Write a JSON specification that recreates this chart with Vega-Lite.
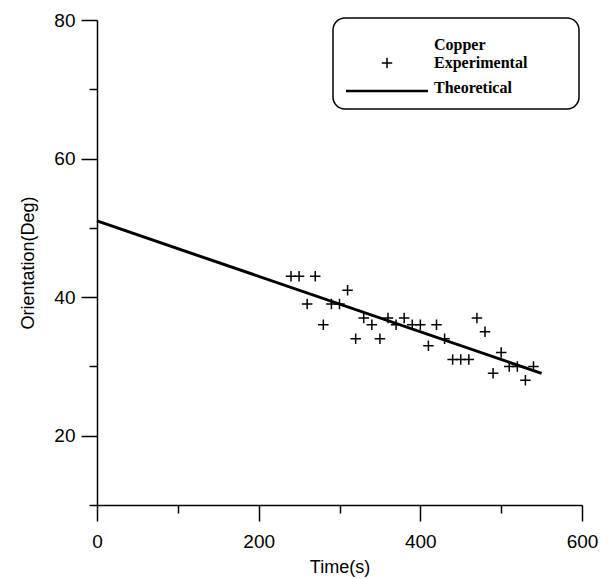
{
  "$schema": "https://vega.github.io/schema/vega-lite/v6.json",
  "width": 485,
  "height": 485,
  "autosize": {"type": "none"},
  "padding": {"left": 97, "top": 20, "right": 26, "bottom": 74},
  "background": "white",
  "config": {
    "view": {"stroke": null},
    "axis": {
      "domainColor": "black", "tickColor": "black", "labelColor": "black", "titleColor": "black",
      "labelFont": "Liberation Sans", "titleFont": "Liberation Sans",
      "labelFontSize": 19, "titleFontSize": 18, "titleFontWeight": "normal",
      "grid": false, "domainWidth": 1.5, "tickWidth": 1.5
    }
  },
  "datasets": {
    "pts": [
      {"t": 240, "deg": 43, "series": "Copper Experimental"},
      {"t": 250, "deg": 43, "series": "Copper Experimental"},
      {"t": 270, "deg": 43, "series": "Copper Experimental"},
      {"t": 310, "deg": 41, "series": "Copper Experimental"},
      {"t": 260, "deg": 39, "series": "Copper Experimental"},
      {"t": 290, "deg": 39, "series": "Copper Experimental"},
      {"t": 300, "deg": 39, "series": "Copper Experimental"},
      {"t": 280, "deg": 36, "series": "Copper Experimental"},
      {"t": 330, "deg": 37, "series": "Copper Experimental"},
      {"t": 340, "deg": 36, "series": "Copper Experimental"},
      {"t": 320, "deg": 34, "series": "Copper Experimental"},
      {"t": 350, "deg": 34, "series": "Copper Experimental"},
      {"t": 360, "deg": 37, "series": "Copper Experimental"},
      {"t": 380, "deg": 37, "series": "Copper Experimental"},
      {"t": 370, "deg": 36, "series": "Copper Experimental"},
      {"t": 390, "deg": 36, "series": "Copper Experimental"},
      {"t": 400, "deg": 36, "series": "Copper Experimental"},
      {"t": 420, "deg": 36, "series": "Copper Experimental"},
      {"t": 410, "deg": 33, "series": "Copper Experimental"},
      {"t": 430, "deg": 34, "series": "Copper Experimental"},
      {"t": 440, "deg": 31, "series": "Copper Experimental"},
      {"t": 450, "deg": 31, "series": "Copper Experimental"},
      {"t": 460, "deg": 31, "series": "Copper Experimental"},
      {"t": 470, "deg": 37, "series": "Copper Experimental"},
      {"t": 480, "deg": 35, "series": "Copper Experimental"},
      {"t": 500, "deg": 32, "series": "Copper Experimental"},
      {"t": 490, "deg": 29, "series": "Copper Experimental"},
      {"t": 510, "deg": 30, "series": "Copper Experimental"},
      {"t": 520, "deg": 30, "series": "Copper Experimental"},
      {"t": 540, "deg": 30, "series": "Copper Experimental"},
      {"t": 530, "deg": 28, "series": "Copper Experimental"}
    ],
    "theory": [
      {"t": 0, "deg": 51, "series": "Theoretical"},
      {"t": 550, "deg": 29, "series": "Theoretical"}
    ]
  },
  "encoding": {
    "x": {
      "field": "t", "type": "quantitative",
      "scale": {"domain": [0, 600], "nice": false},
      "axis": {
        "title": "Time(s)", "values": [0, 100, 200, 300, 400, 500, 600],
        "labelExpr": "datum.value % 200 == 0 ? datum.label : ''",
        "tickSize": {"condition": {"test": "datum.value % 200 == 0", "value": 16}, "value": 8},
        "labelPadding": 11, "titlePadding": 7, "labelFlush": false
      }
    },
    "y": {
      "field": "deg", "type": "quantitative",
      "scale": {"domain": [10, 80], "nice": false},
      "axis": {
        "title": "Orientation(Deg)", "values": [10, 20, 30, 40, 50, 60, 70, 80],
        "labelExpr": "datum.value % 20 == 0 ? datum.label : ''",
        "tickSize": {"condition": {"test": "datum.value % 20 == 0", "value": 16}, "value": 8},
        "labelPadding": 6, "titlePadding": 16, "labelFlush": false
      }
    },
    "color": {
      "field": "series", "type": "nominal",
      "scale": {"domain": ["Copper Experimental", "Theoretical"], "range": ["black", "black"]},
      "legend": {
        "orient": "none", "legendX": 236, "legendY": -2, "title": null,
        "strokeColor": "black", "cornerRadius": 12, "padding": 13, "rowPadding": 8,
        "symbolSize": 6724, "symbolStrokeWidth": 2.5, "symbolType": "stroke",
        "labelFont": "Liberation Serif", "labelFontWeight": "bold", "labelFontSize": 16,
        "labelColor": "black", "labelOffset": 6, "labelLimit": 0,
        "labelExpr": "datum.label == 'Copper Experimental' ? ['Copper', 'Experimental'] : datum.label",
        "encode": {
          "legend": {"update": {"strokeWidth": {"value": 1.5}}},
          "symbols": {
            "update": {
              "shape": {"signal": "datum.value == 'Theoretical' ? 'stroke' : 'M-1,0H1M0,-1V1M33.4,0'"},
              "size": {"signal": "datum.value == 'Theoretical' ? 6724 : 110"},
              "strokeWidth": {"signal": "datum.value == 'Theoretical' ? 2.5 : 1.5"},
              "stroke": {"value": "black"},
              "fill": {"value": "transparent"},
              "x": {"value": 41},
              "y": {"signal": "datum.value == 'Theoretical' ? 8 : 32"}
            }
          },
          "labels": {
            "update": {
              "x": {"value": 88},
              "y": {"signal": "datum.value == 'Theoretical' ? 5 : 14"},
              "lineHeight": {"value": 18}
            }
          }
        }
      }
    }
  },
  "layer": [
    {
      "data": {"name": "pts"},
      "mark": {"type": "point", "shape": "M-1,0H1M0,-1V1", "filled": false, "size": 110, "strokeWidth": 1.5, "opacity": 1}
    },
    {
      "data": {"name": "theory"},
      "mark": {"type": "line", "strokeWidth": 3}
    }
  ]
}
